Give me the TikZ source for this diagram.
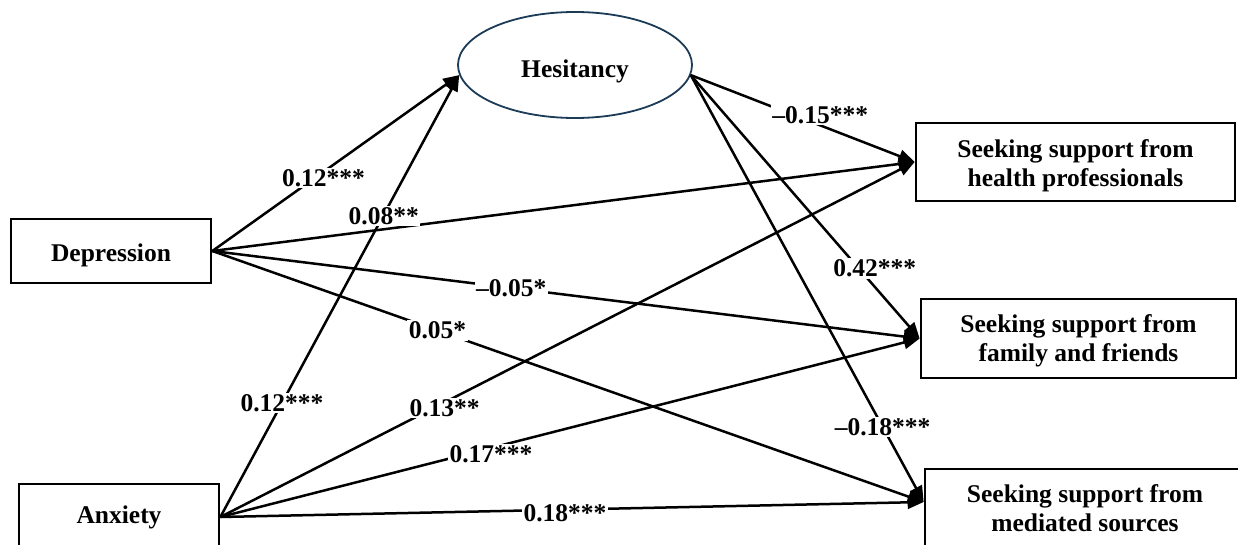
\documentclass[tikz,border=0pt]{standalone}
\usepackage{fontspec}
\setmainfont{Liberation Serif}
\usetikzlibrary{arrows.meta,shapes.geometric,calc}
\definecolor{ellblue}{HTML}{1C3B57}
\newcommand{\twolines}[3]{\raisebox{-#1}[\height][\depth]{\begin{tabular}{@{}c@{}}#2\\#3\end{tabular}}}
\begin{document}
\begin{tikzpicture}[x=1pt,y=-1pt,
  txt/.style={font=\fontsize{25.5}{29}\selectfont\bfseries},
  box/.style={txt,draw,line width=2.7pt,inner sep=0pt},
  conn/.style={line width=2.5pt,-{Triangle[length=16pt,width=13pt]}},
  lbl/.style={txt,fill=white,inner sep=1.5pt}]
\useasboundingbox (0,0) rectangle (1238,545);
\clip (0,0) rectangle (1238,545);
% nodes
\node[box,minimum width=200,minimum height=64,text height=21pt,text depth=0pt] (dep) at (111,251) {Depression};
\node[box,minimum width=200,minimum height=66,text height=13pt,text depth=0pt] (anx) at (119,517) {Anxiety};
\node[txt,ellipse,draw=ellblue,line width=1.8pt,minimum width=234,minimum height=106,inner sep=0pt,text height=26pt,text depth=0pt] (hes) at (575,65) {Hesitancy};
\node[box,minimum width=319,minimum height=78] (hp) at (1075.5,162) {\twolines{4.4pt}{Seeking support from}{health professionals}};
\node[box,minimum width=315,minimum height=79] (ff) at (1078.5,338.5) {\twolines{3pt}{Seeking support from}{family and friends}};
\node[box,minimum width=320,minimum height=84] (med) at (1085,511) {\twolines{0.5pt}{Seeking support from}{mediated sources}};
\coordinate (hesin) at (hes.185);
\coordinate (hesout) at (hes.355);
\coordinate (medin) at ([yshift=9pt]med.west);
% connectors
\draw[conn] (dep.east) -- coordinate[pos=0.45] (l1) (hesin);
\draw[conn] (dep.east) -- coordinate[pos=0.244] (l2) (hp.west);
\draw[conn] (dep.east) -- coordinate[pos=0.4225] (l3) (ff.west);
\draw[conn] (dep.east) -- coordinate[pos=0.3165] (l4) (medin);
\draw[conn] (anx.east) -- coordinate[pos=0.258] (l5) (hesin);
\draw[conn] (anx.east) -- coordinate[pos=0.323] (l6) (hp.west);
\draw[conn] (anx.east) -- coordinate[pos=0.387] (l7) (ff.west);
\draw[conn] (anx.east) -- coordinate[pos=0.49] (l8) (medin);
\draw[conn] (hesout) -- coordinate[pos=0.578] (l9) (hp.west);
\draw[conn] (hesout) -- coordinate[pos=0.734] (l10) (ff.west);
\draw[conn] (hesout) -- coordinate[pos=0.824] (l11) (medin);
% labels
\node[lbl,yshift=-6pt] (t1) at (l1) {0.12***};
\node[lbl,yshift=13pt] (t2) at (l2) {0.08**};
\node[lbl] (t3) at (l3) {–0.05*};
\node[lbl] (t4) at (l4) {0.05*};
\node[lbl] (t5) at (l5) {0.12***};
\node[lbl,yshift=-6pt] (t6) at (l6) {0.13**};
\node[lbl,yshift=-6pt] (t7) at (l7) {0.17***};
\node[lbl,yshift=-4pt] (t8) at (l8) {0.18***};
\node[lbl,yshift=10pt] (t9) at (l9) {–0.15***};
\node[lbl,xshift=16pt] (t10) at (l10) {0.42***};
\node[lbl] (t11) at (l11) {–0.18***};
\end{tikzpicture}
\end{document}
